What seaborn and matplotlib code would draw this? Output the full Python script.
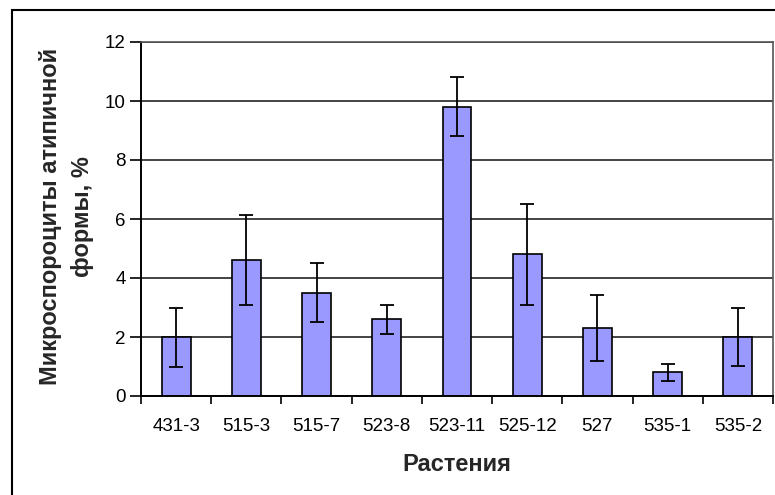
import matplotlib
matplotlib.use("Agg")
import matplotlib.pyplot as plt
import matplotlib.patches as mpatches
import numpy as np
import pandas as pd
import seaborn as sns

# Plants and share of atypical microsporocytes (mean ± error)
plants = ["431-3", "515-3", "515-7", "523-8", "523-11", "525-12", "527", "535-1", "535-2"]
share = [2.0, 4.6, 3.5, 2.6, 9.8, 4.8, 2.3, 0.8, 2.0]
err = [1.0, 1.53, 1.0, 0.5, 1.0, 1.72, 1.13, 0.3, 0.97]
y_ticks = [0, 2, 4, 6, 8, 10, 12]

sns.set_theme(style="white")
plt.rcParams["font.family"] = ["Liberation Sans", "DejaVu Sans"]

df = pd.DataFrame({"plant": plants, "share": share})

fig = plt.figure(figsize=(7.75, 4.95), dpi=100)
ax = fig.add_axes([141 / 775, 1 - 396 / 495, (773 - 141) / 775, (396 - 42) / 495])

sns.barplot(data=df, x="plant", y="share", color="#9999FF", saturation=1,
            edgecolor="black", linewidth=1.2, width=0.41, errorbar=None, ax=ax)
ax.errorbar(np.arange(len(plants)), share, yerr=err, fmt="none",
            ecolor="black", elinewidth=1.3, capsize=5, capthick=1.3, zorder=5)

ax.set_ylim(0, 12)
ax.set_xlim(-0.5, len(plants) - 0.5)
ax.set_yticks(y_ticks)
ax.set_yticklabels([str(v) for v in y_ticks])
ax.yaxis.grid(True, color="#111111", linewidth=1.1)
ax.set_axisbelow(True)

# category labels at bar centres, tick marks between categories
ax.set_xticks(np.arange(len(plants)))
ax.set_xticklabels(plants)
ax.set_xticks(np.arange(len(plants) + 1) - 0.5, minor=True)
ax.tick_params(axis="x", which="major", length=0, pad=16, labelsize=13.5, colors="black")
ax.tick_params(axis="x", which="minor", length=6, width=1.2, direction="out",
               bottom=True, color="black")
ax.tick_params(axis="y", which="major", length=8, width=1.2, direction="out",
               left=True, pad=3, labelsize=13.5, colors="black")

for side in ["left", "bottom"]:
    ax.spines[side].set_color("black")
    ax.spines[side].set_linewidth(1.4)
for side in ["top", "right"]:
    ax.spines[side].set_color("#555555")
    ax.spines[side].set_linewidth(1.2)

ax.set_xlabel("Растения", fontsize=17, fontweight="bold", labelpad=13)
ax.set_ylabel("")
ax.text(-0.118, 0.506, "Микроспороциты атипичной\nформы, %", transform=ax.transAxes,
        rotation=90, ha="center", va="center", multialignment="center",
        fontsize=17, fontweight="bold", linespacing=1.5)

# chart frame
fig.patches.append(mpatches.Rectangle((12 / 775, -0.1), 1.2, 1 - 10 / 495 + 0.1,
                                      transform=fig.transFigure, fill=False,
                                      edgecolor="black", linewidth=1.5, zorder=0))

fig.savefig("out.png", dpi=100, facecolor="white")
